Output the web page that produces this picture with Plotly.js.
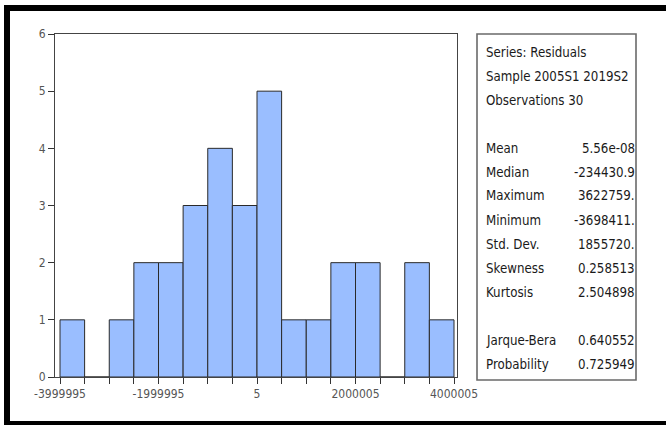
<!DOCTYPE html>
<html>
<head>
<meta charset="utf-8">
<script src="https://cdn.plot.ly/plotly-3.0.1.min.js"></script>
<style>
html,body{margin:0;padding:0;background:#fff;}
#chart{width:666px;height:425px;}
</style>
</head>
<body>
<div id="chart"></div>
<script>
// Histogram of residuals (bin centers, bin width 500000)
var binCenters = [-3749995, -3249995, -2749995, -2249995, -1749995, -1249995, -749995, -249995,
                  250005, 750005, 1250005, 1750005, 2250005, 2750005, 3250005, 3750005];
var counts = [1, 0, 1, 2, 2, 3, 4, 3, 5, 1, 1, 2, 2, 0, 2, 1];
var binWidth = 500000;
var xTickVals = [-3999995, -3499995, -2999995, -2499995, -1999995, -1499995, -999995, -499995,
                 5, 500005, 1000005, 1500005, 2000005, 2500005, 3000005, 3500005, 4000005];
var xTickText = ["-3999995", "", "", "", "-1999995", "", "", "", "5", "", "", "", "2000005", "", "", "", "4000005"];
var yTickVals = [0, 1, 2, 3, 4, 5, 6];

var headerLines = ["Series: Residuals", "Sample 2005S1 2019S2", "Observations 30"];
var statLabels = ["Mean", "Median", "Maximum", "Minimum", "Std. Dev.", "Skewness", "Kurtosis", "", "Jarque-Bera", "Probability"];
var statValues = ["5.56e-08", "-234430.9", "3622759.", "-3698411.", "1855720.", "0.258513", "2.504898", "", "0.640552", "0.725949"];

var W = 666, H = 425;
var L = 55, R = 457, T = 34, B = 377;
function px(x){ return (x - L) / (R - L); }
function py(y){ return (B - y) / (B - T); }

var font = "'DejaVu Sans Condensed', 'Liberation Sans Narrow', 'Arial Narrow', 'Liberation Sans', Arial, sans-serif";
var boxFontSize = 13.2;

var annotations = [];
var lineY = 52, step = 24;
headerLines.forEach(function(t, i){
  annotations.push({xref:'paper', yref:'paper', x:px(484), y:py(lineY + i*step), xanchor:'left', yanchor:'middle',
    text:t, showarrow:false, font:{family:font, size:boxFontSize, color:'#1a1a1a'}});
});
statLabels.forEach(function(t, i){
  if (!t) return;
  var yy = lineY + (i + 4) * step;
  annotations.push({xref:'paper', yref:'paper', x:px(484), y:py(yy), xanchor:'left', yanchor:'middle',
    text:t, showarrow:false, font:{family:font, size:boxFontSize, color:'#1a1a1a'}});
  annotations.push({xref:'paper', yref:'paper', x:px(637), y:py(yy), xanchor:'right', yanchor:'middle',
    text:statValues[i], showarrow:false, font:{family:font, size:boxFontSize, color:'#1a1a1a'}});
});

var shapes = [
  // outer black frame (top, left, bottom)
  {type:'rect', xref:'paper', yref:'paper', x0:px(4), x1:px(670), y0:py(11), y1:py(5), fillcolor:'#000', line:{width:0}, layer:'above'},
  {type:'rect', xref:'paper', yref:'paper', x0:px(4), x1:px(10), y0:py(425), y1:py(5), fillcolor:'#000', line:{width:0}, layer:'above'},
  {type:'rect', xref:'paper', yref:'paper', x0:px(4), x1:px(670), y0:py(426), y1:py(421), fillcolor:'#000', line:{width:0}, layer:'above'},
  // statistics box
  {type:'rect', xref:'paper', yref:'paper', x0:px(477), x1:px(636), y0:py(380), y1:py(34), fillcolor:'rgba(0,0,0,0)', line:{color:'#6a6a6a', width:1.6}}
];

var trace = {
  type:'bar', x:binCenters, y:counts, width:binWidth,
  marker:{color:'#9ABEFF', line:{color:'#2a2a2a', width:1}},
  hoverinfo:'x+y'
};

var layout = {
  width:W, height:H,
  margin:{l:L, r:W-R, t:T, b:H-B, pad:0},
  paper_bgcolor:'#fff', plot_bgcolor:'#fff',
  showlegend:false,
  bargap:0,
  xaxis:{range:[-4101500, 4061000], tickvals:xTickVals, ticktext:xTickText, ticks:'outside', ticklen:6, tickcolor:'#333',
         showline:true, linecolor:'#444', linewidth:1, mirror:true, showgrid:false, zeroline:false,
         tickfont:{family:font, size:12, color:'#555'}},
  yaxis:{range:[0, 6], tickvals:yTickVals, ticks:'outside', ticklen:6, tickcolor:'#333',
         showline:true, linecolor:'#444', linewidth:1, mirror:true, showgrid:false, zeroline:false,
         tickfont:{family:font, size:12, color:'#555'}},
  annotations:annotations,
  shapes:shapes
};

Plotly.newPlot('chart', [trace], layout, {displayModeBar:false, staticPlot:true});
</script>
</body>
</html>
